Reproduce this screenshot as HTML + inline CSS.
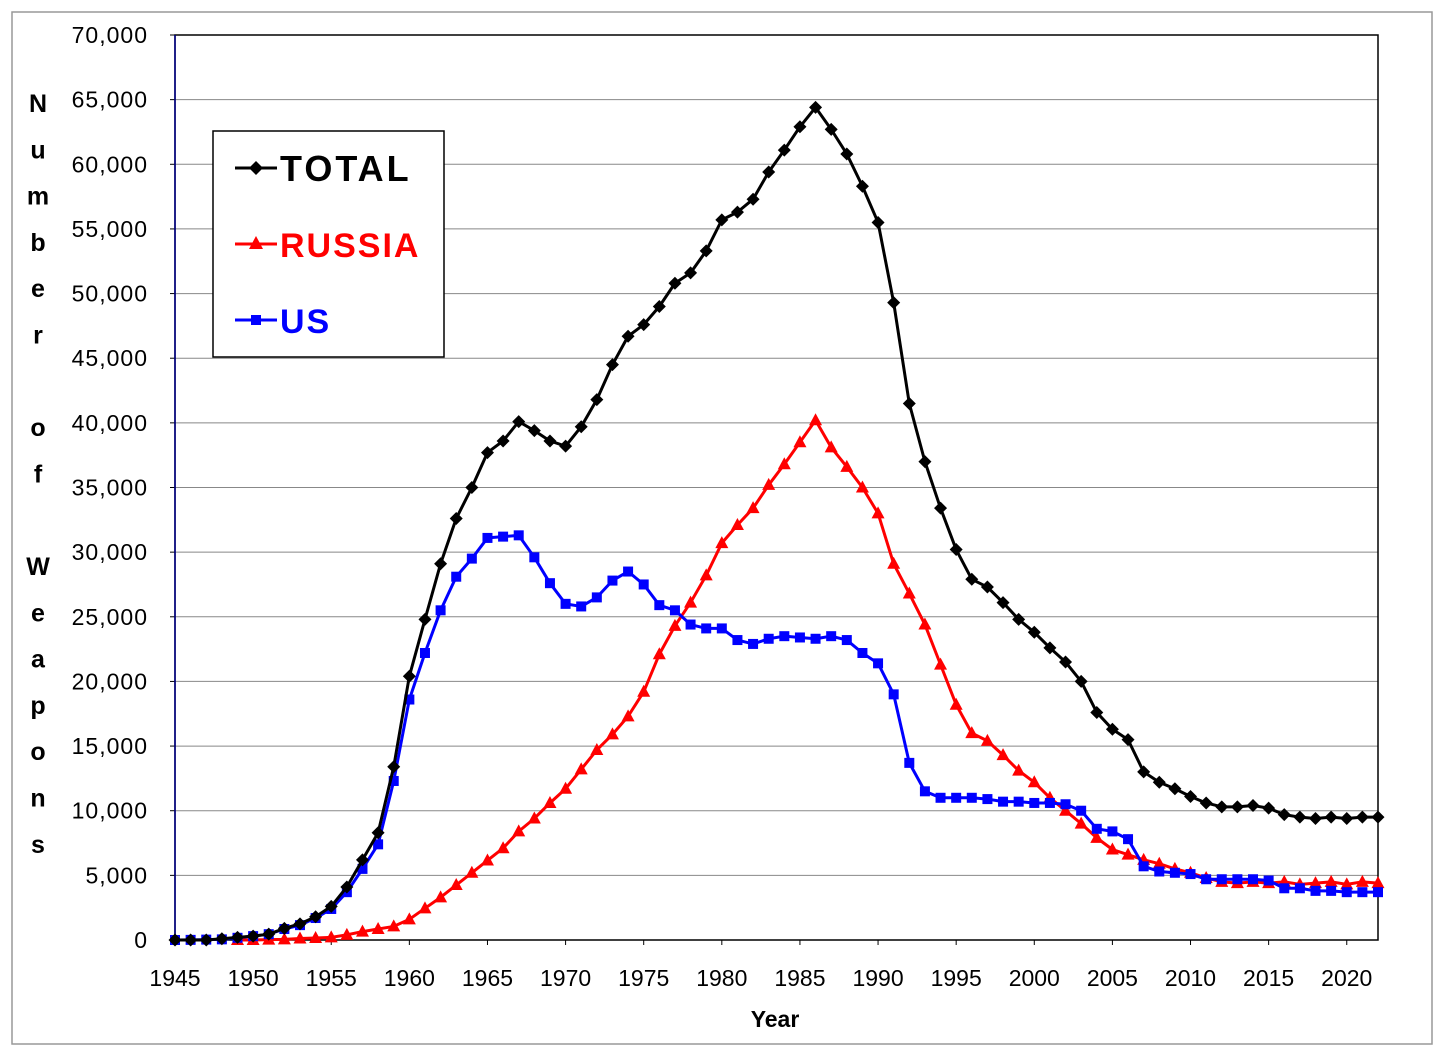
<!DOCTYPE html>
<html><head><meta charset="utf-8"><style>
body{margin:0;background:#fff;}
svg text{font-family:"Liberation Sans",sans-serif;}
</style></head><body>
<svg id="chart" width="1444" height="1056" xmlns="http://www.w3.org/2000/svg">
<rect x="12" y="12" width="1420" height="1032" fill="#fff" stroke="#999" stroke-width="1.5"/>
<g id="grid"></g><g id="axes"></g><g id="series"></g>
<g>
<rect x="213" y="131" width="231" height="226" fill="#fff" stroke="#000" stroke-width="1.5"/>
<g><line x1="235" y1="168" x2="277" y2="168" stroke="#000" stroke-width="3"/><path d="M256,161 L263,168 L256,175 L249,168Z" fill="#000"/><text x="280" y="181" font-size="36" font-weight="bold" fill="#000" letter-spacing="3">TOTAL</text></g>
<g><line x1="235" y1="244" x2="277" y2="244" stroke="#f00" stroke-width="3"/><path d="M256,236 L263,249 L249,249Z" fill="#f00"/><text x="280" y="257" font-size="34" font-weight="bold" fill="#f00" letter-spacing="2">RUSSIA</text></g>
<g><line x1="235" y1="320" x2="277" y2="320" stroke="#00f" stroke-width="3"/><rect x="251" y="315" width="10" height="10" fill="#00f"/><text x="280" y="333" font-size="34" font-weight="bold" fill="#00f" letter-spacing="2">US</text></g>
</g>
<text x="775" y="1027" font-size="23" font-weight="bold" text-anchor="middle">Year</text>
<g id="ytitle"></g>
</svg>
<script>
const years=[];for(let y=1945;y<=2022;y++)years.push(y);
const totalVals=[0,0,0,100,200,300,450,900,1250,1800,2600,4100,6200,8300,13400,20400,24800,29100,32600,35000,37700,38600,40100,39400,38600,38200,39700,41800,44500,46700,47600,49000,50800,51600,53300,55700,56300,57300,59400,61100,62900,64400,62700,60800,58300,55500,49300,41500,37000,33400,30200,27900,27300,26100,24800,23800,22600,21500,20000,17600,16300,15500,13000,12200,11700,11100,10600,10300,10300,10400,10200,9700,9500,9400,9500,9400,9500,9500];
const russiaYears=years.filter(y=>y>=1949);
const russiaVals=[0,0,25,50,120,150,200,400,650,850,1050,1600,2450,3300,4250,5200,6150,7100,8400,9400,10600,11700,13200,14700,15900,17300,19200,22100,24300,26100,28200,30700,32100,33400,35200,36800,38500,40200,38100,36600,35000,33000,29100,26800,24400,21300,18200,16000,15400,14300,13100,12200,11000,10000,9000,7900,7000,6600,6200,5900,5500,5200,4800,4500,4400,4500,4400,4500,4300,4400,4500,4300,4500,4400];
const usVals=[0,10,30,50,170,300,450,850,1150,1700,2400,3700,5500,7400,12300,18600,22200,25500,28100,29500,31100,31200,31300,29600,27600,26000,25800,26500,27800,28500,27500,25900,25500,24400,24100,24100,23200,22900,23300,23500,23400,23300,23500,23200,22200,21400,19000,13700,11500,11000,11000,11000,10900,10700,10700,10600,10600,10500,10000,8600,8400,7800,5700,5300,5200,5100,4700,4700,4700,4700,4600,4000,4000,3800,3800,3700,3700,3700];
const yTicks=[0,5000,10000,15000,20000,25000,30000,35000,40000,45000,50000,55000,60000,65000,70000];
const xTicks=[1945,1950,1955,1960,1965,1970,1975,1980,1985,1990,1995,2000,2005,2010,2015,2020];
const yTitleChars=["N","u","m","b","e","r","","o","f","","W","e","a","p","o","n","s"];
const L=175,R=1378,T=35,B=940;
const xs=y=>L+(y-1945)*(R-L)/77;
const ys=v=>B-v*(B-T)/70000;
const NS="http://www.w3.org/2000/svg";
function mk(tag,attrs,parent,txt){const e=document.createElementNS(NS,tag);for(const k in attrs)e.setAttribute(k,attrs[k]);if(txt!==undefined)e.textContent=txt;parent.appendChild(e);return e;}
const grid=document.getElementById('grid'),axes=document.getElementById('axes'),ser=document.getElementById('series');
yTicks.forEach(v=>{
 if(v>0&&v<70000){const g=mk('line',{x1:L,x2:R,y1:ys(v),y2:ys(v),stroke:'#888','stroke-width':1},grid);
 
 }
 const t=mk('text',{x:148,y:ys(v)+8,'font-size':23,'text-anchor':'end','letter-spacing':1},axes,v.toLocaleString('en-US'));
 
 
 mk('line',{x1:L-5,x2:L,y1:ys(v),y2:ys(v),stroke:'#000'},axes);
});
xTicks.forEach(y=>{
 const t=mk('text',{x:xs(y),y:986,'font-size':23,'text-anchor':'middle'},axes,String(y));
 
 
 mk('line',{x1:xs(y),x2:xs(y),y1:B,y2:B+5,stroke:'#000'},axes);
});
const fr=mk('rect',{x:L,y:T,width:R-L,height:B-T,fill:'none',stroke:'#000','stroke-width':1.5},axes);


mk('line',{x1:L,x2:L,y1:T,y2:B,stroke:'#00008b','stroke-width':1.5},axes);
const yt=document.getElementById('ytitle');
yTitleChars.forEach((c,i)=>{if(c)mk('text',{x:38,y:112+i*46.3,'font-size':25,'font-weight':'bold','text-anchor':'middle'},yt,c);});
function series(xv,vals,color,marker,name){
 const g=mk('g',{},ser);
 
 
 const pts=vals.map((v,i)=>[xs(xv[i]),ys(v)]);
 mk('polyline',{points:pts.map(p=>p.join(',')).join(' '),fill:'none',stroke:color,'stroke-width':3,'stroke-linejoin':'round'},g);
 pts.forEach(([x,y])=>{
  let m;
  if(marker==='d')m=mk('path',{d:`M${x},${y-6.5}L${x+6.5},${y}L${x},${y+6.5}L${x-6.5},${y}Z`,fill:color},g);
  else if(marker==='t')m=mk('path',{d:`M${x},${y-7}L${x+6.5},${y+5}L${x-6.5},${y+5}Z`,fill:color},g);
  else m=mk('rect',{x:x-5,y:y-5,width:10,height:10,fill:color},g);
  
  
 });
}
series(russiaYears,russiaVals,'#f00','t','russia');
series(years,usVals,'#00f','s','us');
series(years,totalVals,'#000','d','total');
</script>
</body></html>
